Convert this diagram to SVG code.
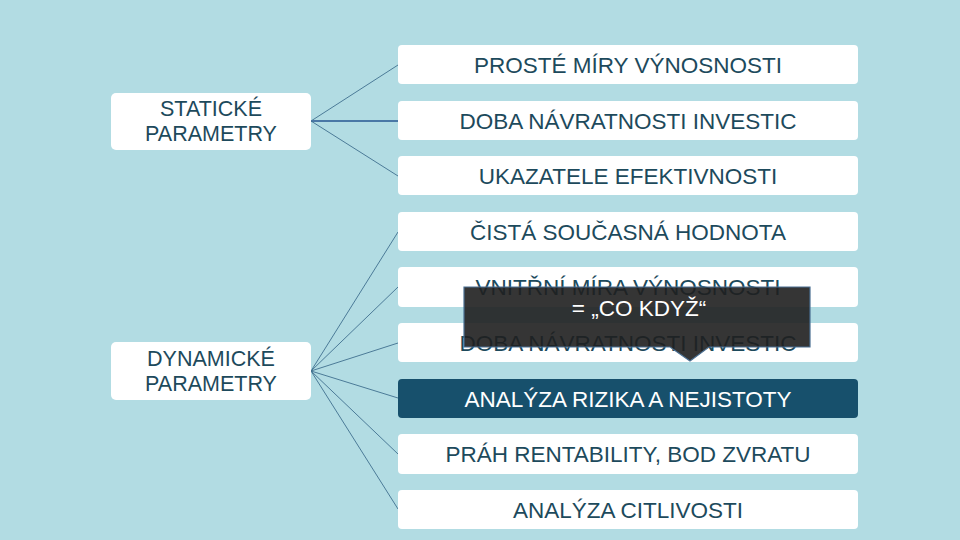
<svg xmlns="http://www.w3.org/2000/svg" width="960" height="540" viewBox="0 0 960 540">
<style>
.bg{fill:#b2dce3}
.box{fill:#ffffff}
.dark{fill:#17506c}
.t{font-family:"Liberation Sans",Arial,sans-serif;font-size:22.5px;fill:#1d4a5c;text-anchor:middle}
.tl{font-family:"Liberation Sans",Arial,sans-serif;font-size:21.5px;fill:#1d4a5c;text-anchor:middle}
.tw{fill:#ffffff}
.c{stroke:#3f6f8e;stroke-width:0.9;fill:none}
.cb{stroke:#4a78a6;stroke-width:2;fill:none}
</style>
<rect class="bg" x="0" y="0" width="960" height="540"/>
<g id="connectors">
<line class="c" x1="311" y1="121" x2="398" y2="65"/>
<line class="cb" x1="311" y1="121" x2="398" y2="121"/>
<line class="c" x1="311" y1="121" x2="398" y2="176"/>
<line class="c" x1="311" y1="371" x2="398" y2="232"/>
<line class="c" x1="311" y1="371" x2="398" y2="287"/>
<line class="c" x1="311" y1="371" x2="398" y2="343"/>
<line class="c" x1="311" y1="371" x2="398" y2="398"/>
<line class="c" x1="311" y1="371" x2="398" y2="454"/>
<line class="c" x1="311" y1="371" x2="398" y2="509"/>
</g>
<g id="staticke">
<rect class="box" x="111" y="93" width="200" height="57" rx="5"/>
<text class="tl" x="211" y="116">STATICKÉ</text>
<text class="tl" x="211" y="141">PARAMETRY</text>
</g>
<g id="dynamicke">
<rect class="box" x="111" y="342" width="200" height="58" rx="5"/>
<text class="tl" x="211" y="366">DYNAMICKÉ</text>
<text class="tl" x="211" y="391">PARAMETRY</text>
</g>
<g id="r1"><rect class="box" x="398" y="45" width="460" height="39" rx="4"/><text class="t" x="628" y="73">PROSTÉ MÍRY VÝNOSNOSTI</text></g>
<g id="r2"><rect class="box" x="398" y="101" width="460" height="39" rx="4"/><text class="t" x="628" y="129">DOBA NÁVRATNOSTI INVESTIC</text></g>
<g id="r3"><rect class="box" x="398" y="156" width="460" height="39" rx="4"/><text class="t" x="628" y="184">UKAZATELE EFEKTIVNOSTI</text></g>
<g id="r4"><rect class="box" x="398" y="212" width="460" height="39" rx="4"/><text class="t" x="628" y="240">ČISTÁ SOUČASNÁ HODNOTA</text></g>
<g id="r5"><rect class="box" x="398" y="267" width="460" height="40" rx="4"/><text class="t" x="628" y="295">VNITŘNÍ MÍRA VÝNOSNOSTI</text></g>
<g id="r6"><rect class="box" x="398" y="323" width="460" height="39" rx="4"/><text class="t" x="628" y="351">DOBA NÁVRATNOSTI INVESTIC</text></g>
<g id="r7"><rect class="dark" x="398" y="379" width="460" height="39" rx="4"/><text class="t tw" x="628" y="407">ANALÝZA RIZIKA A NEJISTOTY</text></g>
<g id="r8"><rect class="box" x="398" y="434" width="460" height="40" rx="4"/><text class="t" x="628" y="462">PRÁH RENTABILITY, BOD ZVRATU</text></g>
<g id="r9"><rect class="box" x="398" y="490" width="460" height="39" rx="4"/><text class="t" x="628" y="518">ANALÝZA CITLIVOSTI</text></g>
<g id="tooltip">
<path d="M464,287 H810 V347 H709 L690,361 L670,347 H464 Z" fill="#1f1f1f" fill-opacity="0.9" stroke="#4a6f92" stroke-width="1.2"/>
<text class="t tw" x="639" y="316">= „CO KDYŽ“</text>
</g>
</svg>
